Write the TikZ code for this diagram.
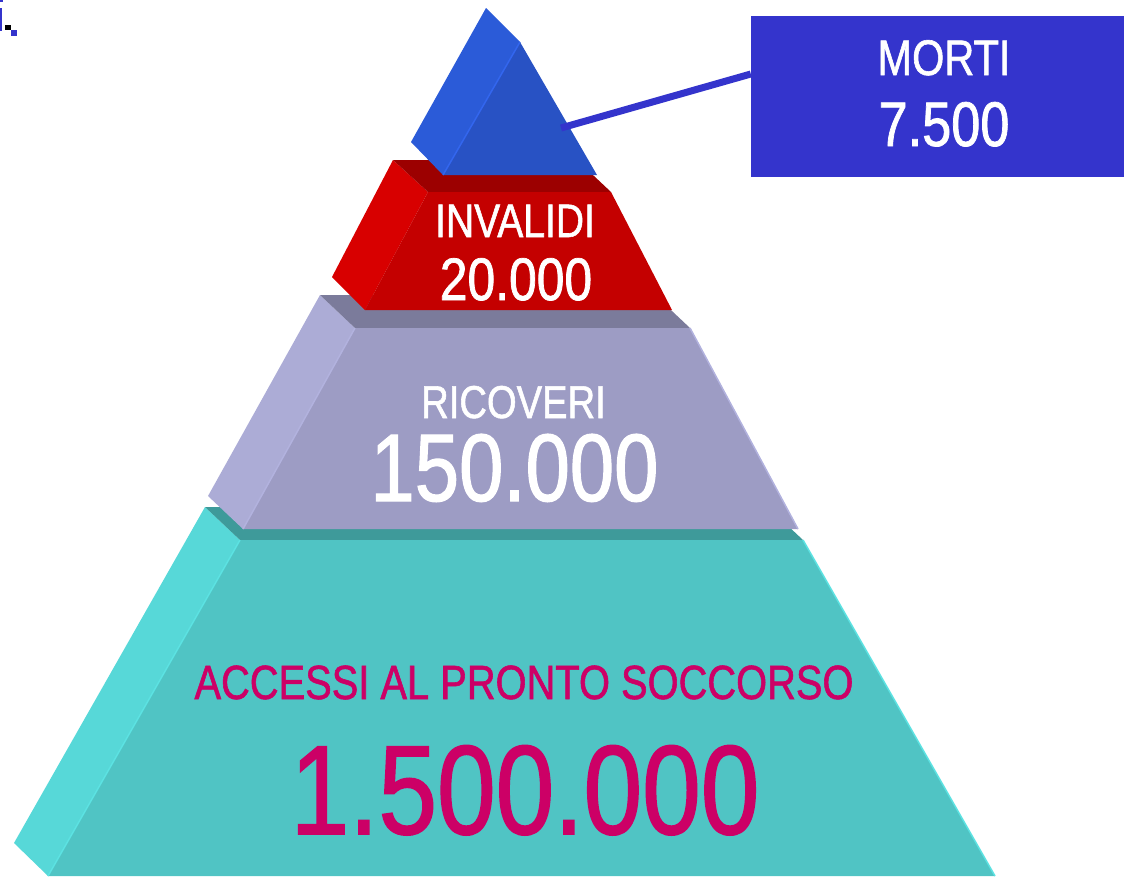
\documentclass[tikz,border=0pt]{standalone}
\usepackage{fontspec}
\setmainfont{Liberation Sans}[FakeStretch=0.83,FakeBold=1.2]

% Colours of the tiers
\definecolor{tealfront}{HTML}{50C4C4}
\definecolor{tealside}{HTML}{57D8D8}
\definecolor{tealtop}{HTML}{3E9A9A}
\definecolor{tealedge}{HTML}{5CE2E2}
\definecolor{lavfront}{HTML}{9D9CC4}
\definecolor{lavside}{HTML}{ACACD6}
\definecolor{lavtop}{HTML}{7B7B9B}
\definecolor{lavedge}{HTML}{B2B2DE}
\definecolor{redfront}{HTML}{C40000}
\definecolor{redside}{HTML}{D80000}
\definecolor{redtop}{HTML}{9C0000}
\definecolor{bluefront}{HTML}{2852C4}
\definecolor{blueside}{HTML}{2B5BD8}
\definecolor{blueedge}{HTML}{3366EE}
\definecolor{boxblue}{HTML}{3434CC}
\definecolor{accmagenta}{HTML}{CC0066}

\begin{document}
\begin{tikzpicture}[x=1pt,y=-1pt,
    tierlabel/.style={anchor=base, inner sep=0pt, text=white},
    mortibox/.style={fill=boxblue, inner sep=0pt, minimum width=373pt, minimum height=161pt},
    connector/.style={draw=boxblue, line width=7pt}]
        \useasboundingbox (0,0) rectangle (1124,876);

        % Small marks in the top left corner
        \fill[boxblue] (0,0) rectangle (3,2);
        \fill[boxblue] (0,8) rectangle (2,31);
        \fill[black] (5,25) rectangle (11,30);
        \fill[boxblue] (11,30) rectangle (17,36);

        % Bottom tier: side, top, front
        \fill[tealside] (205,507)--(240,540)--(48,876)--(14,843)--cycle;
        \fill[tealtop] (205,507)--(768,507)--(803,540)--(240,540)--cycle;
        \fill[tealfront] (240,540)--(803,540)--(995,876)--(48,876)--cycle;
        \draw[tealedge, line width=1.5pt] (240,540)--(48,876);
        \draw[tealedge, line width=1.5pt] (803,540)--(995,876);

        % Second tier
        \fill[lavside] (320,295)--(355,328)--(243,529)--(208,496)--cycle;
        \fill[lavtop] (320,295)--(655,295)--(690,328)--(355,328)--cycle;
        \fill[lavfront] (355,328)--(690,328)--(798,529)--(243,529)--cycle;
        \draw[lavedge, line width=1.5pt] (355,328)--(243,529);
        \draw[lavedge, line width=1.5pt] (690,328)--(798,529);

        % Third tier
        \fill[redside] (393,160)--(428,192)--(365,310)--(332,277)--cycle;
        \fill[redtop] (393,160)--(577,160)--(611,192)--(428,192)--cycle;
        \fill[redfront] (428,192)--(611,192)--(672,310)--(365,310)--cycle;

        % Top of the pyramid
        \fill[blueside] (486,8)--(520,42)--(443,175)--(411,142)--cycle;
        \fill[bluefront] (520,42)--(597,175)--(443,175)--cycle;
        \draw[blueedge, line width=1.5pt] (520,42)--(443,175);
        \coordinate (mtip) at (561,128);

        % Box for the top tier and its connector
        \node[mortibox] (morti) at (937.5,96.5) {};
        \draw[connector] (mtip) -- ([yshift=22.5pt]morti.west);

        % Labels
        \node[tierlabel, font=\fontsize{50}{50}\selectfont] (mortitxt) at (944,75) {MORTI};
        \node[tierlabel, font=\fontsize{63}{63}\selectfont] (mortinum) at (944,146) {7.500};
        \node[tierlabel, font=\fontsize{47}{47}\selectfont] (invtxt) at (515,237) {INVALIDI};
        \node[tierlabel, font=\fontsize{60}{60}\selectfont] (invnum) at (516,300) {20.000};
        \node[tierlabel, font=\fontsize{46}{46}\selectfont] (rictxt) at (513.5,418) {RICOVERI};
        \node[tierlabel, font=\fontsize{96}{96}\selectfont] (ricnum) at (514.5,501) {150.000};
        \node[tierlabel, text=accmagenta, font=\fontsize{48}{48}\selectfont] (acctxt) at (524,699) {ACCESSI AL PRONTO SOCCORSO};
        \node[tierlabel, text=accmagenta, font=\fontsize{127}{127}\selectfont] (accnum) at (525,834) {1.500.000};
\end{tikzpicture}
\end{document}
